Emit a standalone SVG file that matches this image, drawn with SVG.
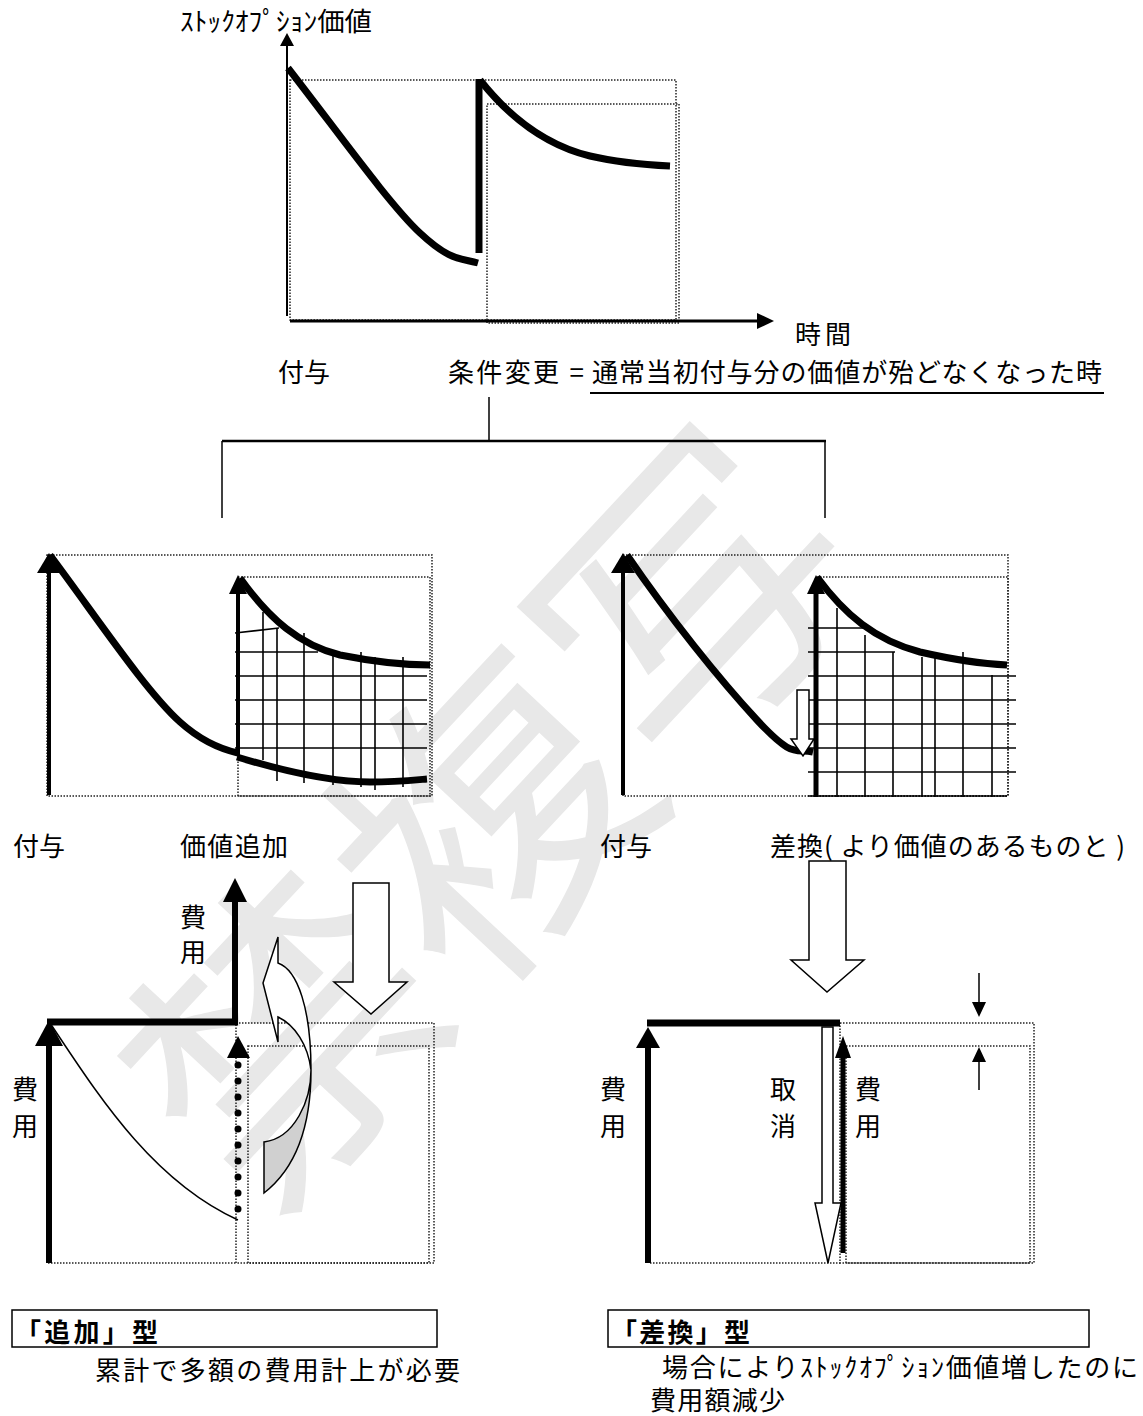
<svg xmlns="http://www.w3.org/2000/svg" width="1143" height="1416" viewBox="0 0 1143 1416">
<style>
.t{font-family:"Noto Sans CJK JP","Noto Sans CJK SC",sans-serif;font-size:26px;fill:#000}
.tb{font-family:"Noto Sans CJK JP","Noto Sans CJK SC",sans-serif;font-size:26px;font-weight:bold;fill:#000}
.dot{fill:none;stroke:#222;stroke-width:1.5;stroke-dasharray:1.5 1.5}
.thick{fill:none;stroke:#000;stroke-width:7}
.ax{stroke:#000;stroke-width:4;fill:none}
.grid{stroke:#000;stroke-width:1.6;fill:none}
.hollow{fill:#fff;stroke:#000;stroke-width:1.5}
.wm{font-family:"Noto Sans CJK JP",sans-serif;font-size:300px;fill:#e8e8e8}
</style>
<rect width="1143" height="1416" fill="#fff"/>
<g id="watermark">
<text class="wm" x="475" y="805" text-anchor="middle" dominant-baseline="central" transform="rotate(-47 475 805)">禁複写</text>
</g>

<g id="top-chart">
<rect class="dot" x="290" y="80" width="386" height="240"/>
<rect class="dot" x="487" y="104" width="192" height="219"/>
<line x1="287" y1="44" x2="287" y2="316" stroke="#000" stroke-width="2"/>
<polygon points="287,33 280,46 294,46" fill="#000"/>
<line x1="290" y1="321" x2="760" y2="321" stroke="#000" stroke-width="3"/>
<polygon points="774,321 757,313 757,329" fill="#000"/>
<path class="thick" d="M288,68 C340,135 390,205 420,233 S460,258 478,263"/>
<line x1="479" y1="79" x2="479" y2="253" stroke="#000" stroke-width="7"/>
<path class="thick" d="M480,80 C510,118 545,145 590,156 C620,163 650,165 670,166"/>
<text class="t" x="180" y="31" font-size="22" textLength="192" lengthAdjust="spacingAndGlyphs">ｽﾄｯｸｵﾌﾟｼｮﾝ価値</text>
<text class="t" x="795" y="344" textLength="56">時間</text>
</g>

<g id="label-row1">
<text class="t" x="278" y="382" textLength="52">付与</text>
<text class="t" x="448" y="382" textLength="136">条件変更 =</text>
<text class="t" x="592" y="382" textLength="510">通常当初付与分の価値が殆どなくなった時</text>
<line x1="590" y1="393" x2="1104" y2="393" stroke="#000" stroke-width="2"/>
</g>

<g id="connectors">
<line x1="489" y1="397" x2="489" y2="441" stroke="#000" stroke-width="1.5"/>
<line x1="222" y1="441" x2="826" y2="441" stroke="#000" stroke-width="2.5"/>
<line x1="222" y1="441" x2="222" y2="518" stroke="#000" stroke-width="1.5"/>
<line x1="825" y1="441" x2="825" y2="518" stroke="#000" stroke-width="1.5"/>
</g>

<g id="chart-add">
<rect class="dot" x="47" y="555" width="385" height="241"/>
<rect class="dot" x="238" y="577" width="192" height="219"/>
<g class="grid">
<line x1="235" y1="633" x2="279" y2="628"/>
<line x1="235" y1="652" x2="318" y2="652"/>
<line x1="235" y1="676" x2="427" y2="676"/>
<line x1="235" y1="700" x2="427" y2="700"/>
<line x1="235" y1="724" x2="427" y2="724"/>
<line x1="235" y1="748" x2="427" y2="748"/>
<line x1="263" y1="612" x2="263" y2="760"/>
<line x1="277" y1="628" x2="277" y2="781"/>
<line x1="304" y1="633" x2="304" y2="783"/>
<line x1="333" y1="652" x2="333" y2="785"/>
<line x1="361" y1="652" x2="361" y2="787"/>
<line x1="375" y1="657" x2="375" y2="790"/>
<line x1="403" y1="657" x2="403" y2="787"/>
</g>
<line class="ax" x1="49" y1="570" x2="49" y2="795"/>
<polygon points="49,553 37,573 61,573" fill="#000"/>
<line class="ax" x1="238" y1="590" x2="238" y2="756"/>
<polygon points="238,575 229,594 247,594" fill="#000"/>
<path class="thick" d="M50,555 C100,622 145,690 180,722 C200,740 220,749 238,753"/>
<path class="thick" d="M240,578 C270,620 300,645 340,655 C380,663 410,665 430,665"/>
<path class="thick" d="M237,757 C280,770 330,782 370,782 C395,782 415,780 427,779"/>
<text class="t" x="13" y="856" textLength="52">付与</text>
<text class="t" x="180" y="856" textLength="108">価値追加</text>
</g>

<g id="chart-swap">
<rect class="dot" x="623" y="555" width="385" height="241"/>
<rect class="dot" x="817" y="577" width="191" height="219"/>
<g class="grid">
<line x1="808" y1="628" x2="872" y2="628"/>
<line x1="808" y1="652" x2="895" y2="652"/>
<line x1="808" y1="676" x2="1016" y2="676"/>
<line x1="808" y1="700" x2="1016" y2="700"/>
<line x1="808" y1="724" x2="1016" y2="724"/>
<line x1="808" y1="748" x2="1016" y2="748"/>
<line x1="808" y1="772" x2="1016" y2="772"/>
<line x1="808" y1="796" x2="1007" y2="796"/>
<line x1="837" y1="608" x2="837" y2="797"/>
<line x1="865" y1="635" x2="865" y2="797"/>
<line x1="893" y1="652" x2="893" y2="797"/>
<line x1="922" y1="657" x2="922" y2="797"/>
<line x1="935" y1="652" x2="935" y2="797"/>
<line x1="963" y1="652" x2="963" y2="797"/>
<line x1="992" y1="675" x2="992" y2="797"/>
</g>
<line class="ax" x1="623" y1="570" x2="623" y2="795"/>
<polygon points="623,553 611,573 635,573" fill="#000"/>
<line x1="816" y1="590" x2="816" y2="797" stroke="#000" stroke-width="5"/>
<polygon points="816,575 807,594 825,594" fill="#000"/>
<path class="thick" d="M627,555 C670,618 720,680 757,720 S795,748 813,752"/>
<path class="thick" d="M817,577 C845,615 875,640 920,652 C955,660 985,664 1007,665"/>
<polygon class="hollow" points="797,690 809,690 809,739 814,739 803,756 791,739 797,739"/>
<text class="t" x="600" y="856" textLength="52">付与</text>
<text class="t" x="770" y="856" textLength="355">差換( より価値のあるものと )</text>
</g>

<g id="cost-add">
<rect class="dot" x="236" y="1023" width="198" height="240"/>
<rect class="dot" x="248" y="1046" width="181" height="217"/>
<line class="dot" x1="48" y1="1263" x2="236" y2="1263"/>
<line x1="49" y1="1044" x2="49" y2="1263" stroke="#000" stroke-width="6"/>
<polygon points="49,1020 35,1046 63,1046" fill="#000"/>
<line x1="47" y1="1022" x2="238" y2="1022" stroke="#000" stroke-width="7"/>
<line x1="235" y1="1025" x2="235" y2="900" stroke="#000" stroke-width="6"/>
<polygon points="235,878 223,902 247,902" fill="#000"/>
<path d="M50,1023 C95,1090 150,1180 238,1220" fill="none" stroke="#000" stroke-width="1.5"/>
<polygon points="238,1036 227,1058 250,1058" fill="#000"/>
<g fill="#000">
<circle cx="238" cy="1065" r="3.5"/><circle cx="238" cy="1081" r="3.5"/><circle cx="238" cy="1097" r="3.5"/>
<circle cx="238" cy="1113" r="3.5"/><circle cx="238" cy="1129" r="3.5"/><circle cx="238" cy="1145" r="3.5"/>
<circle cx="238" cy="1161" r="3.5"/><circle cx="238" cy="1177" r="3.5"/><circle cx="238" cy="1193" r="3.5"/>
<circle cx="238" cy="1209" r="3.5"/>
</g>
<polygon class="hollow" points="353,883 389,883 389,982 407,982 371,1014 334,982 353,982"/>
<path class="hollow" d="M278,963 L278,937 L263,983 L278,1042 L278,1017 C295,1025 308,1045 311,1070 C311,1010 298,970 278,963 Z"/>
<path d="M311,1070 C311,1100 295,1138 264,1142 L264,1193 C300,1165 311,1120 311,1070 Z" fill="#d0d0d0" stroke="#000" stroke-width="1.5"/>
<text class="t" x="180" y="927">費</text>
<text class="t" x="180" y="962">用</text>
<text class="t" x="12" y="1099">費</text>
<text class="t" x="12" y="1136">用</text>
</g>

<g id="cost-swap">
<polygon class="hollow" points="809,861 846,861 846,960 864,960 827,992 791,960 809,960"/>
<rect class="dot" x="840" y="1023" width="194" height="240"/>
<rect class="dot" x="846" y="1046" width="184" height="217"/>
<line class="dot" x1="650" y1="1263" x2="840" y2="1263"/>
<line x1="648" y1="1046" x2="648" y2="1263" stroke="#000" stroke-width="6"/>
<polygon points="648,1027 636,1048 660,1048" fill="#000"/>
<line x1="647" y1="1023" x2="840" y2="1023" stroke="#000" stroke-width="7"/>
<polygon class="hollow" points="822,1027 833,1027 833,1203 841,1203 828,1263 815,1203 822,1203"/>
<line x1="843" y1="1056" x2="843" y2="1253" stroke="#000" stroke-width="5"/>
<polygon points="843,1036 835,1058 851,1058" fill="#000"/>
<line x1="979" y1="973" x2="979" y2="1004" stroke="#000" stroke-width="1.5"/>
<polygon points="979,1017 972,1002 986,1002" fill="#000"/>
<polygon points="979,1047 972,1062 986,1062" fill="#000"/>
<line x1="979" y1="1060" x2="979" y2="1090" stroke="#000" stroke-width="1.5"/>
<text class="t" x="600" y="1099">費</text>
<text class="t" x="600" y="1136">用</text>
<text class="t" x="770" y="1099">取</text>
<text class="t" x="770" y="1136">消</text>
<text class="t" x="855" y="1099">費</text>
<text class="t" x="855" y="1136">用</text>
</g>

<g id="box-add">
<rect x="12" y="1310" width="425" height="37" fill="none" stroke="#000" stroke-width="1.5"/>
<text class="tb" x="15" y="1342" textLength="143">「追加」型</text>
<text class="t" x="95" y="1380" textLength="365">累計で多額の費用計上が必要</text>
</g>

<g id="box-swap">
<rect x="608" y="1310" width="481" height="37" fill="none" stroke="#000" stroke-width="1.5"/>
<text class="tb" x="611" y="1342" textLength="139">「差換」型</text>
<text class="t" x="662" y="1377" font-size="25" textLength="476">場合によりｽﾄｯｸｵﾌﾟｼｮﾝ価値増したのに</text>
<text class="t" x="650" y="1410" font-size="25" textLength="135">費用額減少</text>
</g>
</svg>
